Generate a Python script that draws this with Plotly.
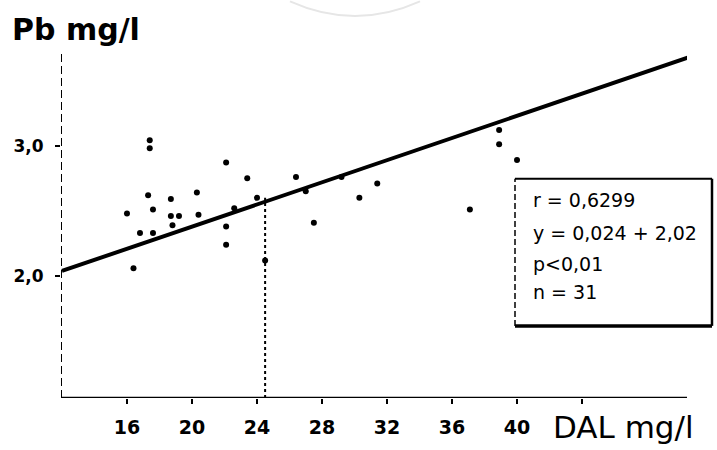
import plotly.graph_objects as go

# Scatter data: DAL (mg/l) vs Pb (mg/l)
dal = [17.4, 17.4, 22.1, 23.4, 26.4, 17.3, 18.7, 20.3, 16.0, 17.6,
       18.7, 19.2, 20.4, 18.8, 16.8, 17.6, 22.1, 22.1, 16.4, 24.5,
       27.0, 27.5, 29.2, 30.3, 31.4, 37.1, 38.9, 38.9, 40.0, 22.6, 24.0]
pb = [3.04, 2.98, 2.87, 2.75, 2.76, 2.62, 2.59, 2.64, 2.48, 2.51,
      2.46, 2.46, 2.47, 2.39, 2.33, 2.33, 2.38, 2.24, 2.06, 2.12,
      2.65, 2.41, 2.76, 2.60, 2.71, 2.51, 3.12, 3.01, 2.89, 2.52, 2.60]

# Drawn regression line (as it appears on the figure)
line_x = [12.0, 50.9]
line_y = [2.04, 3.69]

# Vertical dashed marker line
vline_x = [24.5, 24.5]
vline_y = [1.067, 2.6]

# Axis ticks
x_ticks = [16, 20, 24, 28, 32, 36, 40, 44]
x_ticktext = ["16", "20", "24", "28", "32", "36", "40", ""]
y_ticks = [2.0, 3.0]
y_ticktext = ["2,0", "3,0"]

stats_lines = ["r = 0,6299", "y = 0,024 + 2,02", "p<0,01", "n = 31"]

XR = [11.94, 50.46]
YR = [1.067, 3.709]

PW, PH = 626, 354  # plot area size in px


def px(xp):
    return (xp - 61) / PW


def py(yp):
    return (407 - yp) / PH


fig = go.Figure()
fig.add_trace(go.Scatter(x=line_x, y=line_y, mode="lines",
                         line=dict(color="black", width=4), hoverinfo="skip"))
fig.add_trace(go.Scatter(x=vline_x, y=vline_y, mode="lines",
                         line=dict(color="black", width=2, dash="3px,3px"), hoverinfo="skip"))
fig.add_trace(go.Scatter(x=dal, y=pb, mode="markers",
                         marker=dict(color="black", size=6)))

# y axis (dashed) and x axis (solid)
fig.add_shape(type="line", xref="x", yref="y", x0=XR[0], x1=XR[0], y0=YR[0], y1=YR[1],
              line=dict(color="black", width=2, dash="8px,4px"))
fig.add_shape(type="line", xref="x", yref="y", x0=XR[0], x1=XR[1], y0=YR[0], y1=YR[0],
              line=dict(color="black", width=2.5))

# stats box: white fill, then borders of different weights
bx0, bx1, by0, by1 = px(515), px(712), py(333), py(182)
fig.add_shape(type="rect", xref="paper", yref="paper", x0=bx0, x1=bx1, y0=by0, y1=by1,
              line=dict(width=0), fillcolor="white", layer="above")
fig.add_shape(type="line", xref="paper", yref="paper", x0=bx0, x1=bx0, y0=by0, y1=by1,
              line=dict(color="black", width=1.5, dash="6px,3px"), layer="above")
fig.add_shape(type="line", xref="paper", yref="paper", x0=bx0, x1=bx1, y0=by1, y1=by1,
              line=dict(color="black", width=2), layer="above")
fig.add_shape(type="line", xref="paper", yref="paper", x0=bx1, x1=bx1, y0=by0, y1=by1,
              line=dict(color="black", width=2.5), layer="above")
fig.add_shape(type="line", xref="paper", yref="paper", x0=bx0, x1=bx1, y0=by0, y1=by0,
              line=dict(color="black", width=3.5), layer="above")
for t, ypx in zip(stats_lines, [204, 238, 269, 298]):
    fig.add_annotation(x=px(531), y=py(ypx), xref="paper", yref="paper",
                       text=t, showarrow=False, xanchor="left", yanchor="middle",
                       font=dict(family="DejaVu Sans", size=19, color="black"))

# faint stamp arc at the top (scan artefact)
fig.add_shape(type="path", xref="paper", yref="paper",
              path=f"M {px(290)},{py(0)} Q {px(355)},{py(30)} {px(420)},{py(0)}",
              line=dict(color="#e6e6e6", width=2))

fig.add_annotation(x=px(10), y=py(29), xref="paper", yref="paper",
                   text="<b>Pb mg/l</b>", showarrow=False, xanchor="left", yanchor="middle",
                   font=dict(family="DejaVu Sans", size=30, color="black"))
fig.add_annotation(x=px(551), y=py(437), xref="paper", yref="paper",
                   text="DAL mg/l", showarrow=False, xanchor="left", yanchor="middle",
                   font=dict(family="DejaVu Sans", size=31, color="black"))

fig.update_layout(
    width=717, height=450,
    margin=dict(l=61, r=30, t=53, b=43),
    paper_bgcolor="white", plot_bgcolor="white",
    showlegend=False,
    separators=",.",
    xaxis=dict(range=XR, showgrid=False, zeroline=False, showline=False,
               tickvals=x_ticks, ticktext=x_ticktext, ticks="outside", ticklen=5,
               tickwidth=2, tickcolor="black", ticklabelstandoff=7,
               tickfont=dict(family="DejaVu Sans", size=19, color="black", weight="bold")),
    yaxis=dict(range=YR, showgrid=False, zeroline=False, showline=False,
               tickvals=y_ticks, ticktext=y_ticktext, ticks="outside", ticklen=5,
               tickwidth=2, tickcolor="black", ticklabelstandoff=8,
               tickfont=dict(family="DejaVu Sans", size=17, color="black", weight="bold")),
)

fig.write_html("out.html", config={"displayModeBar": False},
               post_script="document.body.style.margin='0';document.body.style.overflow='hidden';")
